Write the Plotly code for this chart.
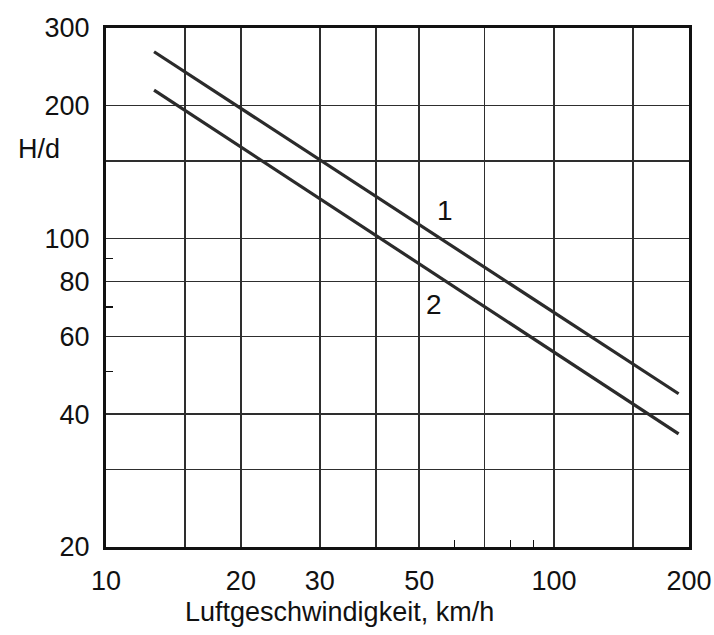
import math
import plotly.graph_objects as go

# Data (log-log chart)
speed_kmh = [12.8, 189.6]
curve1_hd = [265.0, 44.5]
curve2_hd = [217.0, 36.1]

curve_labels = ["1", "2"]
label_x = [57.0, 54.0]
label_y = [116.0, 71.0]

x_tickvals = [10, 15, 20, 30, 40, 50, 70, 100, 150, 200]
x_ticktext = ["10", "", "20", "30", "", "50", "", "100", "", "200"]
x_minor = [60, 80, 90]

y_tickvals = [20, 30, 40, 60, 80, 100, 150, 200, 300]
y_ticktext = ["20", "", "40", "60", "80", "100", "", "200", "300"]
y_minor = [50, 70, 90]

x_title = "Luftgeschwindigkeit, km/h"
y_title = "H/d"

FONT = "Liberation Sans, Arial, sans-serif"
LINE_COLOR = "#2b2b2b"

fig = go.Figure()
for ys in (curve1_hd, curve2_hd):
    fig.add_trace(go.Scatter(x=speed_kmh, y=ys, mode="lines",
                             line=dict(color=LINE_COLOR, width=3.2),
                             showlegend=False, hoverinfo="skip"))

# annotations on log axes take log10 coordinates
for t, lx, ly in zip(curve_labels, label_x, label_y):
    fig.add_annotation(x=math.log10(lx), y=math.log10(ly), xref="x", yref="y",
                       text=t, showarrow=False,
                       font=dict(family=FONT, size=28, color="#111"))

fig.add_annotation(x=0.40, y=0, xref="paper", yref="paper", yanchor="top",
                   yshift=-48, text=x_title, showarrow=False,
                   font=dict(family=FONT, size=27, color="#111"))
fig.add_annotation(x=0, y=math.log10(150), xref="paper", yref="y", xanchor="right",
                   xshift=-44, yshift=12, text=y_title, showarrow=False,
                   font=dict(family=FONT, size=27, color="#111"))

axis_common = dict(
    showgrid=True, gridcolor="#2e2e2e", gridwidth=1.5,
    showline=True, linecolor="#111", linewidth=3, mirror=True,
    ticks="", ticklabelstandoff=8, automargin=False,
    tickfont=dict(family=FONT, size=27, color="#111"),
    zeroline=False,
)

fig.update_xaxes(type="log", range=[1, math.log10(200)],
                 tickmode="array", tickvals=x_tickvals, ticktext=x_ticktext,
                 minor=dict(tickmode="array", tickvals=x_minor, ticks="inside",
                            ticklen=7, tickcolor="#111", tickwidth=1.5, showgrid=False),
                 **axis_common)
fig.update_yaxes(type="log", range=[math.log10(20), math.log10(300)],
                 tickmode="array", tickvals=y_tickvals, ticktext=y_ticktext,
                 minor=dict(tickmode="array", tickvals=y_minor, ticks="inside",
                            ticklen=7, tickcolor="#111", tickwidth=1.5, showgrid=False),
                 **axis_common)

fig.update_layout(
    width=714, height=635,
    margin=dict(l=106, r=25, t=28, b=88),
    paper_bgcolor="white", plot_bgcolor="white",
    font=dict(family=FONT, color="#111"),
)

fig.write_html("out.html",
               config={"displayModeBar": False, "staticPlot": True},
               post_script="document.body.style.margin='0';document.body.style.overflow='hidden';")
